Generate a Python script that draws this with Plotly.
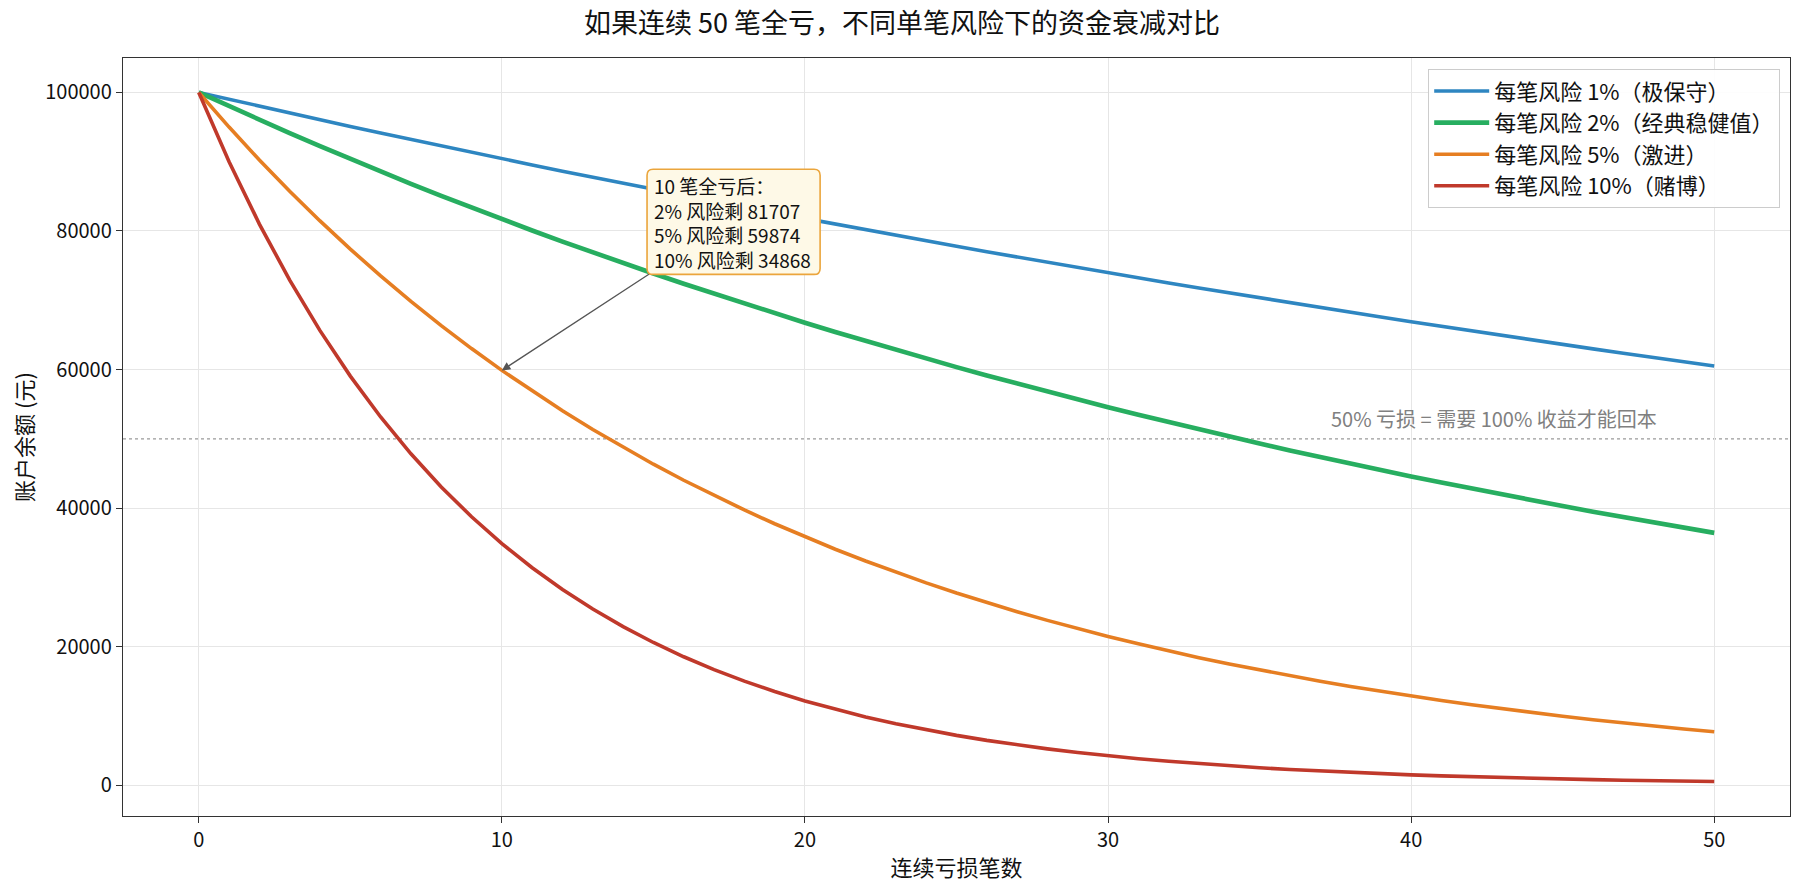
import plotly.graph_objects as go

n_losses = list(range(0, 51))

risk_1 = [100000, 99000, 98010, 97030, 96060, 95099, 94148, 93207, 92274, 91352,
          90438, 89534, 88638, 87752, 86875, 86006, 85146, 84294, 83451, 82617,
          81791, 80973, 80163, 79361, 78568, 77782, 77004, 76234, 75472, 74717,
          73970, 73230, 72498, 71773, 71055, 70345, 69641, 68945, 68256, 67573,
          66897, 66228, 65566, 64910, 64261, 63619, 62982, 62353, 61729, 61112,
          60501]
risk_2 = [100000, 98000, 96040, 94119, 92237, 90392, 88584, 86813, 85076, 83375,
          81707, 80073, 78472, 76902, 75364, 73857, 72380, 70932, 69514, 68123,
          66761, 65426, 64117, 62835, 61578, 60346, 59140, 57957, 56798, 55662,
          54548, 53457, 52388, 51341, 50314, 49307, 48321, 47355, 46408, 45480,
          44570, 43679, 42805, 41949, 41110, 40288, 39482, 38692, 37919, 37160,
          36418]
risk_5 = [100000, 95000, 90250, 85738, 81451, 77378, 73509, 69834, 66342, 63025,
          59874, 56880, 54036, 51334, 48768, 46329, 44013, 41812, 39721, 37735,
          35849, 34056, 32353, 30736, 29199, 27739, 26352, 25034, 23783, 22594,
          21464, 20391, 19371, 18403, 17482, 16608, 15778, 14989, 14240, 13528,
          12851, 12209, 11598, 11018, 10467, 9944, 9447, 8975, 8526, 8099,
          7695]
risk_10 = [100000, 90000, 81000, 72900, 65610, 59049, 53144, 47830, 43047, 38742,
           34868, 31381, 28243, 25419, 22877, 20589, 18530, 16677, 15009, 13509,
           12158, 10942, 9848, 8863, 7977, 7179, 6461, 5815, 5233, 4710,
           4239, 3815, 3434, 3090, 2781, 2503, 2253, 2028, 1825, 1642,
           1478, 1330, 1197, 1078, 970, 873, 786, 707, 636, 573,
           515]

series_names = ["每笔风险 1%（极保守）", "每笔风险 2%（经典稳健值）",
                "每笔风险 5%（激进）", "每笔风险 10%（赌博）"]
series_values = [risk_1, risk_2, risk_5, risk_10]
series_colors = ["#2E86C1", "#27AE60", "#E67E22", "#C0392B"]
series_widths = [3.6, 4.6, 3.6, 3.6]

x_ticks = [0, 10, 20, 30, 40, 50]
y_ticks = [0, 20000, 40000, 60000, 80000, 100000]

FONT = "Noto Sans CJK SC"

fig = go.Figure()
for name, vals, col, w in zip(series_names, series_values, series_colors, series_widths):
    fig.add_trace(go.Scatter(x=n_losses, y=vals, mode="lines", name=name,
                             line=dict(color=col, width=w)))

# 50% reference line
fig.add_shape(type="line", xref="paper", x0=0, x1=1, yref="y", y0=50000, y1=50000,
              line=dict(color="#9A9A9A", width=1.3, dash="dot"), layer="below")
fig.add_annotation(x=42.74, y=52900, xref="x", yref="y",
                   text="50% 亏损 = 需要 100% 收益才能回本",
                   showarrow=False, yanchor="middle", xanchor="center",
                   font=dict(family=FONT, size=20, color="#808080"))

# Callout box (rounded rectangle)
bx0, bx1, by0, by1 = 14.79, 20.5, 73730, 88910
rx, ry = 0.2, 870
box_path = (f"M {bx0+rx},{by0} L {bx1-rx},{by0} Q {bx1},{by0} {bx1},{by0+ry} "
            f"L {bx1},{by1-ry} Q {bx1},{by1} {bx1-rx},{by1} "
            f"L {bx0+rx},{by1} Q {bx0},{by1} {bx0},{by1-ry} "
            f"L {bx0},{by0+ry} Q {bx0},{by0} {bx0+rx},{by0} Z")
fig.add_shape(type="path", path=box_path, xref="x", yref="y",
              fillcolor="#FEF9E7", line=dict(color="#EBA53C", width=1.6), layer="above")

# Arrow from box corner to the 5% curve at 10 losses
fig.add_annotation(x=10, y=risk_5[10], xref="x", yref="y",
                   ax=14.9, ay=73900, axref="x", ayref="y",
                   text="", showarrow=True, arrowhead=2, arrowsize=1.3, arrowwidth=1.3,
                   arrowcolor="#555555", standoff=0, startstandoff=0)

fig.add_annotation(x=15.02, y=81180, xref="x", yref="y",
                   text="10 笔全亏后：<br>2% 风险剩 81707<br>5% 风险剩 59874<br>10% 风险剩 34868",
                   align="left", showarrow=False, xanchor="left", yanchor="middle",
                   borderpad=0, borderwidth=0,
                   font=dict(family=FONT, size=19, color="#111111"))

axis_common = dict(showline=True, linecolor="#333333", linewidth=1.4, mirror=True,
                   ticks="outside", ticklen=6, tickwidth=1.4, tickcolor="#333333",
                   showgrid=True, gridcolor="#E6E6E6", gridwidth=1.1, zeroline=False,
                   tickfont=dict(family=FONT, size=20, color="#111111"))

fig.update_layout(
    width=1804, height=894,
    paper_bgcolor="white", plot_bgcolor="white",
    margin=dict(l=123, r=14, t=58, b=78),
    title=dict(text="如果连续 50 笔全亏，不同单笔风险下的资金衰减对比",
               x=0.5, xanchor="center", y=0.974, yanchor="middle",
               font=dict(family=FONT, size=27, color="#111111")),
    xaxis=dict(range=[-2.5, 52.5], tickvals=x_ticks,
               title=dict(text="连续亏损笔数", font=dict(family=FONT, size=22, color="#111111"), standoff=8),
               **axis_common),
    yaxis=dict(range=[-4459, 104974], tickvals=y_ticks, tickformat="d",
               title=dict(text="账户余额 (元)", font=dict(family=FONT, size=22, color="#111111"), standoff=5),
               **axis_common),
    legend=dict(x=0.994, y=0.9855, xanchor="right", yanchor="top",
                bgcolor="rgba(255,255,255,0.9)", bordercolor="#CCCCCC", borderwidth=1.2,
                font=dict(family=FONT, size=22, color="#111111"),
                tracegroupgap=0, itemwidth=55),
    showlegend=True,
)

fig.write_html("out.html")
